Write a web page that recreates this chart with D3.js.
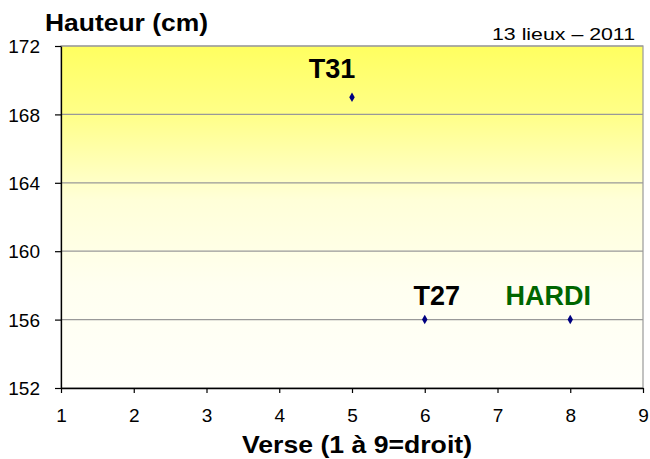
<!DOCTYPE html>
<html>
<head>
<meta charset="utf-8">
<script src="https://cdn.jsdelivr.net/npm/d3@7"></script>
<style>
  body { margin: 0; background: #fff; }
  svg { display: block; font-family: "Liberation Sans", Arial, sans-serif; }
</style>
</head>
<body>
<div id="chart"></div>
<script>
const varieties = ["T31", "T27", "HARDI"];
const verse = [5, 6, 8];
const hauteur = [169, 156, 156];
const labelColors = ["#000000", "#000000", "#006600"];
const xTicks = [1, 2, 3, 4, 5, 6, 7, 8, 9];
const yTicks = [152, 156, 160, 164, 168, 172];

// label nudges relative to the point (px)
const labelOffsets = [[-20, -19], [12, -15], [-22, -15]];

const width = 650;
const height = 459;
const margin = { top: 46, right: 7, bottom: 71, left: 61 };
const plotW = width - margin.left - margin.right;
const plotH = height - margin.top - margin.bottom;

const svg = d3.select("#chart")
  .append("svg")
  .attr("width", width)
  .attr("height", height);

const defs = svg.append("defs");
const grad = defs.append("linearGradient")
  .attr("id", "bg")
  .attr("x1", 0).attr("y1", 0).attr("x2", 0).attr("y2", 1);
[
  [0, "#ffff60"],
  [0.2, "#ffff88"],
  [0.45, "#ffffd8"],
  [0.7, "#fffff0"],
  [1, "#fffffa"],
].forEach(([o, c]) => grad.append("stop").attr("offset", o).attr("stop-color", c));

const x = d3.scaleLinear().domain([1, 9]).range([0, plotW]);
const y = d3.scaleLinear().domain([152, 172]).range([plotH, 0]);

const g = svg.append("g").attr("transform", `translate(${margin.left},${margin.top})`);

g.append("rect")
  .attr("width", plotW)
  .attr("height", plotH)
  .attr("fill", "url(#bg)")
  .attr("stroke", "#999")
  .attr("stroke-width", 1.2);

g.append("g")
  .selectAll("line")
  .data(yTicks.slice(1))
  .join("line")
  .attr("x1", 0)
  .attr("x2", plotW)
  .attr("y1", (d) => y(d))
  .attr("y2", (d) => y(d))
  .attr("stroke", "#999")
  .attr("stroke-width", 1.2);

const yAxis = g.append("g")
  .call(d3.axisLeft(y).tickValues(yTicks).tickSize(6).tickPadding(15).tickSizeOuter(0));
const xAxis = g.append("g")
  .attr("transform", `translate(0,${plotH})`)
  .call(d3.axisBottom(x).tickValues(xTicks).tickSize(5).tickPadding(0).tickSizeOuter(0));

[yAxis, xAxis].forEach((ax) => {
  ax.select(".domain").attr("stroke", "#000").attr("stroke-width", 1.3);
  ax.selectAll(".tick line").attr("stroke", "#000").attr("stroke-width", 1.2);
  ax.selectAll("text")
    .attr("fill", "#000")
    .style("font-size", "19px")
    .style("font-family", "'Liberation Sans', Arial, sans-serif");
});
yAxis.selectAll("text").attr("dy", "0.35em");
xAxis.selectAll("text").attr("y", 34).attr("dy", 0);

const pts = varieties.map((name, i) => ({
  name,
  vx: verse[i],
  vy: hauteur[i],
  color: labelColors[i],
  off: labelOffsets[i],
}));

g.append("g")
  .selectAll("path")
  .data(pts)
  .join("path")
  .attr("d", d3.symbol(d3.symbolDiamond, 26))
  .attr("transform", (d) => `translate(${x(d.vx)},${y(d.vy)})`)
  .attr("fill", "#000080");

g.append("g")
  .selectAll("text")
  .data(pts)
  .join("text")
  .attr("x", (d) => x(d.vx) + d.off[0])
  .attr("y", (d) => y(d.vy) + d.off[1])
  .attr("text-anchor", "middle")
  .attr("fill", (d) => d.color)
  .style("font-size", "27px")
  .style("font-weight", "bold")
  .text((d) => d.name);

svg.append("text")
  .attr("x", 45)
  .attr("y", 31)
  .attr("textLength", 163)
  .attr("lengthAdjust", "spacingAndGlyphs")
  .style("font-size", "24px")
  .style("font-weight", "bold")
  .text("Hauteur (cm)");

svg.append("text")
  .attr("x", 492)
  .attr("y", 40)
  .attr("textLength", 143)
  .attr("lengthAdjust", "spacingAndGlyphs")
  .style("font-size", "17px")
  .text("13 lieux \u2013 2011");

svg.append("text")
  .attr("x", 242)
  .attr("y", 453)
  .attr("textLength", 230)
  .attr("lengthAdjust", "spacingAndGlyphs")
  .style("font-size", "24px")
  .style("font-weight", "bold")
  .text("Verse (1 \u00e0 9=droit)");
</script>
</body>
</html>
